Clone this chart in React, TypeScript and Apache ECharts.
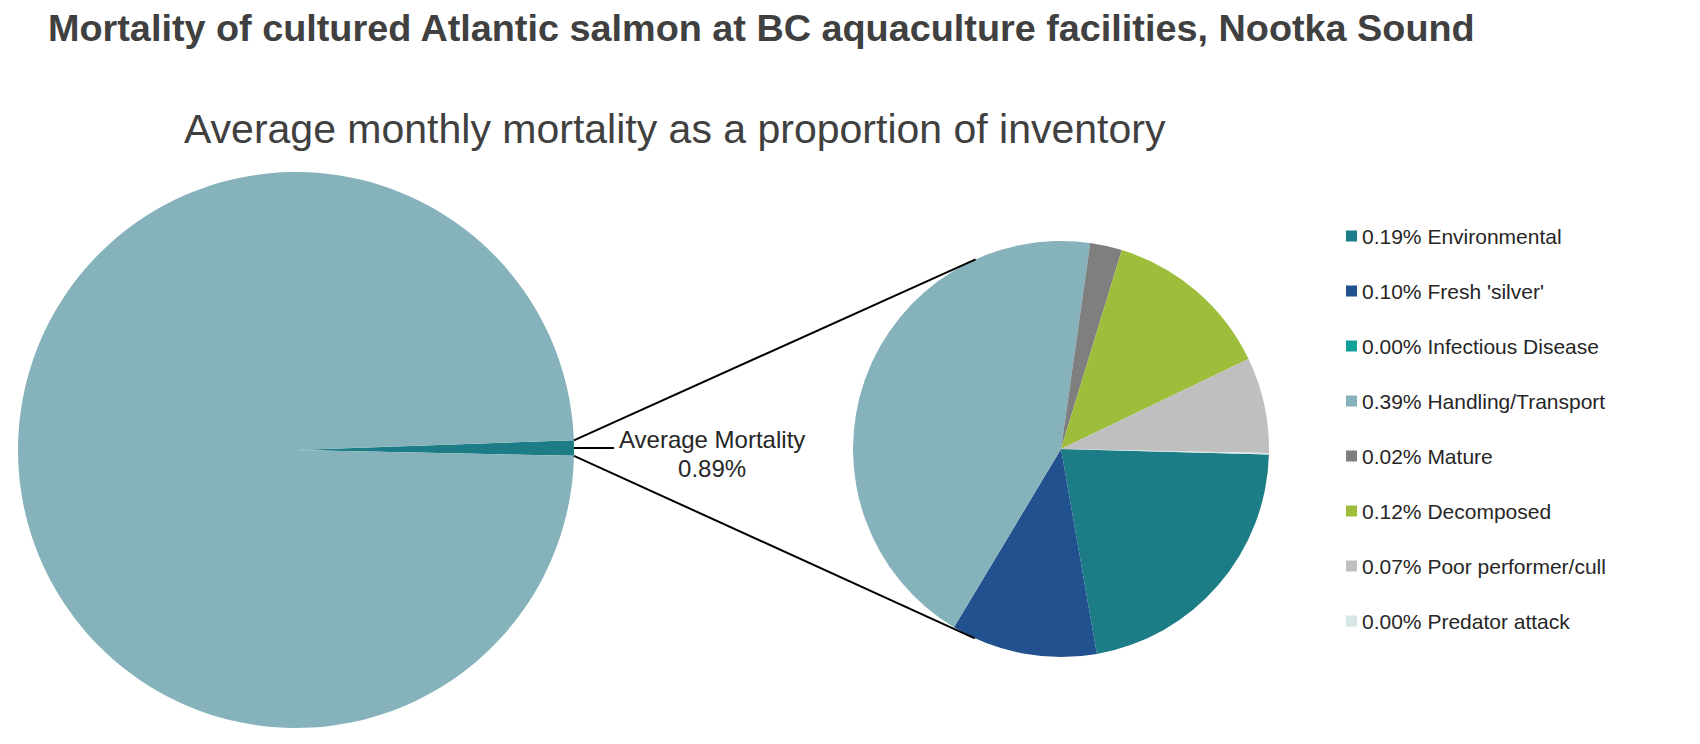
import { useEffect, useRef } from 'react';
import * as echarts from 'echarts';
import type { ECharts, EChartsOption } from 'echarts';

// 标题
const TITLE = 'Mortality of cultured Atlantic salmon at BC aquaculture facilities, Nootka Sound';
const SUBTITLE = 'Average monthly mortality as a proportion of inventory';

// 死亡原因（占库存百分比，月均）
const causes = [
    'Environmental',
    "Fresh 'silver'",
    'Infectious Disease',
    'Handling/Transport',
    'Mature',
    'Decomposed',
    'Poor performer/cull',
    'Predator attack'
];
const causeValues = [0.194, 0.101, 0, 0.388, 0.022, 0.117, 0.066, 0.001];
const causeColors = ['#1d7d87', '#21518f', '#12a09a', '#86b3bb', '#7f7f7f', '#9ebe3b', '#bfbfbf', '#d5e6e4'];

// 主饼图
const mainNames = ['Average Mortality', 'Remaining inventory'];
const mainColors = ['#1d7d87', '#86b3bb'];

const FONT = "'Liberation Sans', Arial, sans-serif";
const MAIN_CENTER: [number, number] = [296, 450];
const MAIN_R = 278;
const MAIN_START = 2;
const SUB_CENTER: [number, number] = [1061, 449];
const SUB_R = 208;
const SUB_START = -1.5;

const totalMortality = causeValues.reduce((s, v) => s + v, 0);
const mainValues = [totalMortality, 100 - totalMortality];

// 从主饼图扇区边缘到副饼图的切线
const tangentPoint = (px: number, py: number, upper: boolean) => {
    const dx = px - SUB_CENTER[0];
    const dy = py - SUB_CENTER[1];
    const d = Math.sqrt(dx * dx + dy * dy);
    const phi = Math.atan2(dy, dx);
    const a = Math.acos(SUB_R / d);
    const cands = [phi + a, phi - a].map(t => [
        SUB_CENTER[0] + SUB_R * Math.cos(t),
        SUB_CENTER[1] + SUB_R * Math.sin(t)
    ]);
    cands.sort((p, q) => p[1] - q[1]);
    return upper ? cands[0] : cands[1];
};

const connectorLines = () => {
    const sweep = (mainValues[0] / (mainValues[0] + mainValues[1])) * 360;
    const angles = [MAIN_START, MAIN_START - sweep];
    return angles.map((deg, i) => {
        const rad = (deg * Math.PI) / 180;
        const x1 = MAIN_CENTER[0] + MAIN_R * Math.cos(rad);
        const y1 = MAIN_CENTER[1] - MAIN_R * Math.sin(rad);
        const [x2, y2] = tangentPoint(x1, y1, i === 0);
        return {
            type: 'line' as const,
            z: 100,
            silent: true,
            shape: { x1, y1, x2, y2 },
            style: { stroke: '#000', lineWidth: 2 }
        };
    });
};

const App = () => {
    const chartRef = useRef<HTMLDivElement>(null);
    const chartInstance = useRef<ECharts | null>(null);

    useEffect(() => {
        if (!chartRef.current) return;
        chartInstance.current = echarts.init(chartRef.current, undefined, { renderer: 'svg' });

        const valueByName: Record<string, number> = {};
        causes.forEach((c, i) => {
            valueByName[c] = causeValues[i];
        });

        const option: EChartsOption = {
            animation: false,
            backgroundColor: '#fff',
            title: [
                {
                    text: TITLE,
                    left: 48,
                    top: 9,
                    padding: 0,
                    textStyle: { fontSize: 37.8, fontWeight: 'bold', color: '#404040', fontFamily: FONT }
                },
                {
                    text: SUBTITLE,
                    left: 184,
                    top: 108,
                    padding: 0,
                    textStyle: { fontSize: 41, fontWeight: 'normal', color: '#404040', fontFamily: FONT }
                }
            ],
            legend: {
                data: causes,
                orient: 'vertical',
                left: 1346,
                top: 225,
                padding: 0,
                itemWidth: 11,
                itemHeight: 11,
                itemGap: 33,
                icon: 'rect',
                selectedMode: false,
                textStyle: { fontSize: 21, lineHeight: 22, color: '#262626', fontFamily: FONT },
                formatter: (name: string) => `${valueByName[name].toFixed(2)}% ${name}`
            },
            series: [
                {
                    type: 'pie',
                    silent: true,
                    center: MAIN_CENTER,
                    radius: MAIN_R,
                    startAngle: MAIN_START,
                    clockwise: true,
                    avoidLabelOverlap: false,
                    data: mainNames.map((name, i) => ({
                        name,
                        value: mainValues[i],
                        itemStyle: { color: mainColors[i] },
                        label:
                            i === 0
                                ? {
                                      show: true,
                                      position: 'outside',
                                      formatter: `{t|${name}}\n{t|${totalMortality.toFixed(2)}%}`,
                                      padding: [12, 0, 0, 0],
                                      rich: {
                                          t: {
                                              fontSize: 24,
                                              lineHeight: 29,
                                              align: 'center',
                                              color: '#262626',
                                              fontFamily: FONT
                                          }
                                      }
                                  }
                                : { show: false },
                        labelLine:
                            i === 0
                                ? { show: true, length: 18, length2: 22, lineStyle: { color: '#000', width: 2 } }
                                : { show: false }
                    }))
                },
                {
                    type: 'pie',
                    silent: true,
                    center: SUB_CENTER,
                    radius: SUB_R,
                    startAngle: SUB_START,
                    clockwise: true,
                    label: { show: false },
                    labelLine: { show: false },
                    data: causes.map((name, i) => ({
                        name,
                        value: causeValues[i],
                        itemStyle: { color: causeColors[i] }
                    }))
                }
            ],
            graphic: connectorLines()
        };

        chartInstance.current.setOption(option, true);

        return () => {
            chartInstance.current?.dispose();
            chartInstance.current = null;
        };
    }, []);

    return (
        <div
            ref={chartRef}
            style={{ position: 'fixed', left: 0, top: 0, width: '1700px', height: '744px' }}
        />
    );
};

export default App;
